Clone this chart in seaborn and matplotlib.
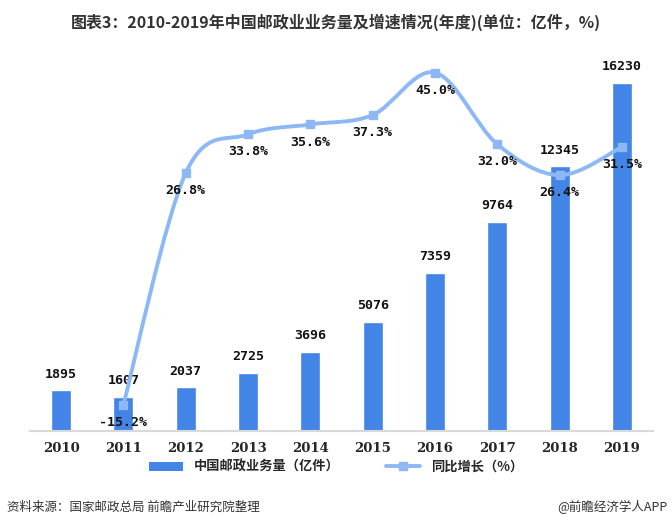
import numpy as np
import pandas as pd
import matplotlib.pyplot as plt
from matplotlib.path import Path
from matplotlib.patches import PathPatch, Patch
from matplotlib.lines import Line2D
import seaborn as sns

# data
years = ['2010', '2011', '2012', '2013', '2014', '2015', '2016', '2017', '2018', '2019']
volume = [1895, 1607, 2037, 2725, 3696, 5076, 7359, 9764, 12345, 16230]
growth_years = ['2011', '2012', '2013', '2014', '2015', '2016', '2017', '2018', '2019']
growth = [-15.2, 26.8, 33.8, 35.6, 37.3, 45.0, 32.0, 26.4, 31.5]

bar_color = '#4385E6'
line_color = '#8DB8F5'

sns.set_style('white')
plt.rcParams['font.family'] = ['Noto Sans CJK SC', 'DejaVu Sans']

df = pd.DataFrame({'year': years, 'volume': volume})

fig = plt.figure(figsize=(6.72, 5.29), dpi=100)
ax1 = fig.add_axes([30 / 672, 1 - 431 / 529, 623 / 672, 386 / 529])
sns.barplot(x='year', y='volume', data=df, color=bar_color, width=0.32,
            saturation=1, ax=ax1)
ax1.set_ylim(0, 18000)
ax1.set_xlim(-0.5, 9.5)
ax1.set_xlabel('')
ax1.set_ylabel('')
ax1.set_yticks([])
for s in ['top', 'left', 'right']:
    ax1.spines[s].set_visible(False)
ax1.spines['bottom'].set_color('#D9D9D9')
ax1.spines['bottom'].set_linewidth(1.5)
ax1.tick_params(axis='x', length=0, pad=8)
for lbl in ax1.get_xticklabels():
    lbl.set_fontweight('bold')
    lbl.set_fontsize(9.5)
    lbl.set_family('DejaVu Serif')

for i, v in enumerate(volume):
    ax1.annotate(str(v), (i, v), xytext=(0, 7), textcoords='offset points',
                 ha='center', va='bottom', fontsize=9.5, fontweight='bold',
                 family='DejaVu Sans Mono', color='#111111')

# growth line on the right axis, smoothed with a Catmull-Rom style bezier
ax2 = ax1.twinx()
ax2.set_ylim(-20, 50)
ax2.set_yticks([])
for s in ['top', 'left', 'right', 'bottom']:
    ax2.spines[s].set_visible(False)

gx = np.array([years.index(y) for y in growth_years], dtype=float)
gy = np.array(growth, dtype=float)
pts = np.column_stack([gx, gy])
verts = [pts[0]]
codes = [Path.MOVETO]
n = len(pts)
for i in range(n - 1):
    p0 = pts[max(i - 1, 0)]
    p1 = pts[i]
    p2 = pts[i + 1]
    p3 = pts[min(i + 2, n - 1)]
    c1 = p1 + (p2 - p0) / 6
    c2 = p2 - (p3 - p1) / 6
    verts += [c1, c2, p2]
    codes += [Path.CURVE4] * 3
ax2.add_patch(PathPatch(Path(verts, codes), fill=False, edgecolor=line_color,
                        lw=2.8, capstyle='round'))
ax2.scatter(gx, gy, marker='s', s=38, color=line_color, zorder=3)

for x, v in zip(gx, gy):
    ax2.annotate(f'{v:.1f}%', (x, v), xytext=(0, -8), textcoords='offset points',
                 ha='center', va='top', fontsize=9.5, fontweight='bold',
                 family='DejaVu Sans Mono', color='#111111')

fig.text(0.5, 1 - 22 / 529, '图表3：2010-2019年中国邮政业业务量及增速情况(年度)(单位：亿件，%)',
         ha='center', va='center', fontsize=11.5, fontweight='bold', color='#333333')

handles = [Patch(facecolor=bar_color, edgecolor='none'),
           Line2D([0], [0], color=line_color, lw=2.8, marker='s', markersize=6)]
fig.legend(handles, ['中国邮政业务量（亿件）', '同比增长（%）'], loc='center',
           bbox_to_anchor=(0.5, 1 - 467 / 529), ncol=2, frameon=False,
           prop={'weight': 'bold', 'size': 9.5}, handlelength=2.6, columnspacing=3.5)

fig.text(7 / 672, 1 - 507 / 529, '资料来源：国家邮政总局 前瞻产业研究院整理',
         ha='left', va='center', fontsize=9, color='#333333')
fig.text(668 / 672, 1 - 507 / 529, '@前瞻经济学人APP',
         ha='right', va='center', fontsize=9, color='#333333')

fig.savefig('out.png', dpi=100, facecolor='white')
